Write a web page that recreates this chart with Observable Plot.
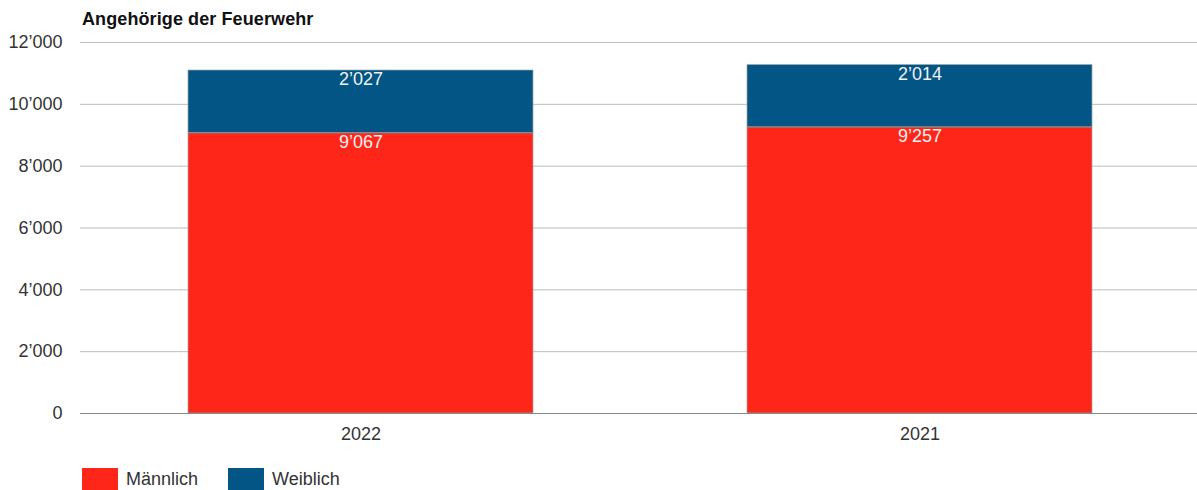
<!DOCTYPE html>
<html>
<head>
<meta charset="utf-8">
<script src="https://cdn.jsdelivr.net/npm/d3@7"></script>
<script src="https://cdn.jsdelivr.net/npm/@observablehq/plot@0.6"></script>
<style>
  html, body { margin: 0; padding: 0; background: #fff; }
  body { width: 1197px; height: 490px; position: relative; font-family: "Liberation Sans", Arial, sans-serif; overflow: hidden; }
  #title { position: absolute; left: 82px; top: 9px; font-size: 18px; font-weight: bold; color: #111; letter-spacing: 0.1px; }
  #chart { position: absolute; left: 0; top: 30px; }
  #legend { position: absolute; left: 82px; top: 468px; display: flex; align-items: center; font-size: 18px; color: #333; }
  .item { display: flex; align-items: center; margin-right: 30px; }
  .sw { width: 36px; height: 22px; margin-right: 8px; box-sizing: border-box; }
</style>
</head>
<body>
<div id="title">Angehörige der Feuerwehr</div>
<div id="chart"></div>
<div id="legend"></div>
<script>
const years = ["2022", "2021"];
const series = ["Männlich", "Weiblich"];
const maennlich = [9067, 9257];
const weiblich = [2027, 2014];
const colors = ["#fe2619", "#035586"];
const yTicks = [0, 2000, 4000, 6000, 8000, 10000, 12000];

const data = [];
years.forEach((y, i) => {
  data.push({year: y, sex: series[0], value: maennlich[i]});
  data.push({year: y, sex: series[1], value: weiblich[i]});
});

const fmt = d => d3.format(",")(d).replace(/,/g, "’");

const plot = Plot.plot({
  width: 1197,
  height: 425,
  marginLeft: 80,
  marginRight: 0,
  marginTop: 12,
  marginBottom: 42,
  style: {fontFamily: "'Liberation Sans', Arial, sans-serif", fontSize: "18px", color: "#333", background: "#fff"},
  x: {domain: years, range: [81, 1199], paddingInner: 0.382, paddingOuter: 0.191, label: null, tickSize: 0, tickPadding: 14},
  y: {domain: [0, 12000], ticks: yTicks, tickFormat: fmt, label: null, tickSize: 0, tickPadding: 18},
  color: {domain: series, range: colors},
  marks: [
    Plot.ruleY(yTicks.filter(d => d > 0), {stroke: "#bbb", strokeWidth: 1}),
    Plot.barY(data, Plot.stackY({x: "year", y: "value", z: "sex", fill: "sex", stroke: "#9aa", strokeOpacity: 0.7, strokeWidth: 1, order: series})),
    Plot.ruleY([0], {stroke: "#888", strokeWidth: 1}),
    Plot.text(data, Plot.stackY2({x: "year", y: "value", z: "sex", order: series, text: d => fmt(d.value), fill: "#f2f2f2", lineAnchor: "top", dy: 2, fontSize: 18}))
  ]
});
document.getElementById("chart").appendChild(plot);

const legend = document.getElementById("legend");
series.forEach((s, i) => {
  const item = document.createElement("div");
  item.className = "item";
  const sw = document.createElement("div");
  sw.className = "sw";
  sw.style.background = colors[i];
  const lab = document.createElement("span");
  lab.textContent = s;
  item.appendChild(sw);
  item.appendChild(lab);
  legend.appendChild(item);
});
</script>
</body>
</html>
